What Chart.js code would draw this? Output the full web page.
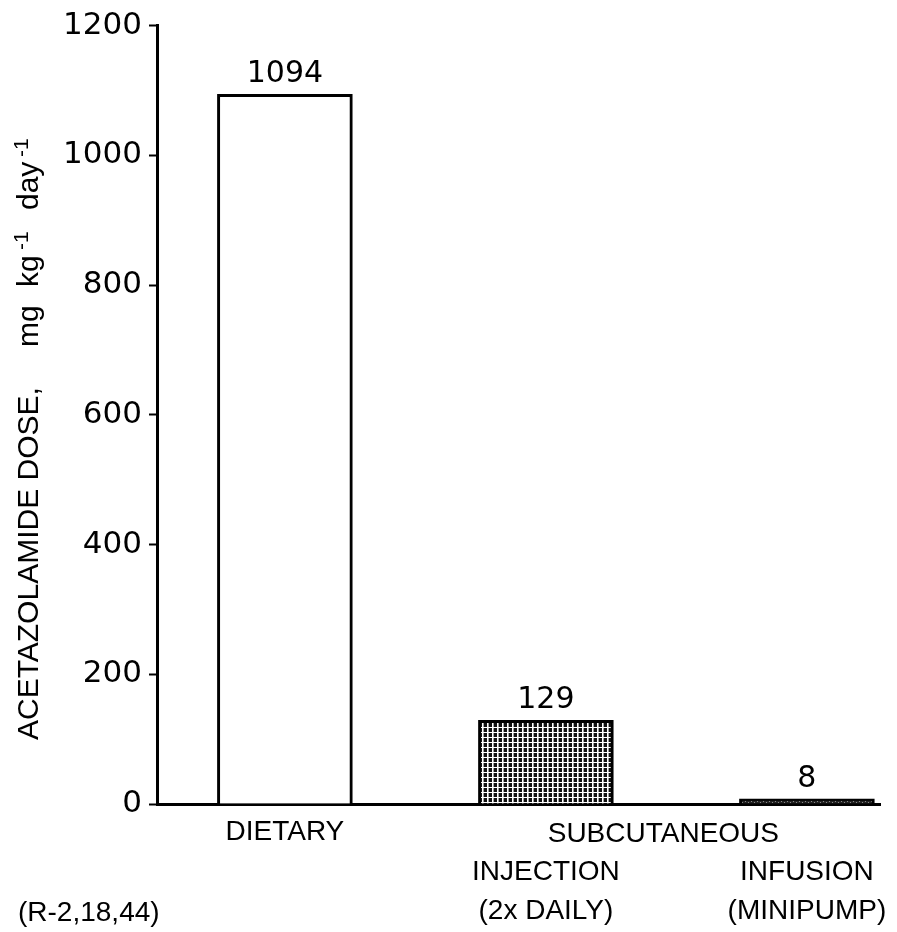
<!DOCTYPE html>
<html>
<head>
<meta charset="utf-8">
<style>
  html, body { margin: 0; padding: 0; background: #fff; }
  canvas { display: block; }
</style>
<script src="https://cdn.jsdelivr.net/npm/chart.js@4.4.1/dist/chart.umd.min.js"></script>
</head>
<body>
<canvas id="chart" width="897" height="932"></canvas>
<script>
// Acetazolamide dose by route of administration
const categories = [
  ["DIETARY"],
  ["", "INJECTION", "(2x DAILY)"],
  ["", "INFUSION", "(MINIPUMP)"]
];
const positions = [1, 2, 3];
const doses = [1094, 129, 8];
const yTicks = [0, 200, 400, 600, 800, 1000, 1200];
const groupLabel = "SUBCUTANEOUS";
const groupPosition = 2.45;
const referenceNote = "(R-2,18,44)";

const TEXT_FONT = "'Liberation Sans', Arial, sans-serif";
const NUM_FONT = "'DejaVu Sans', sans-serif";

// dark cross-hatch fill used for the injection bar
function makeHatch() {
  const t = document.createElement('canvas');
  t.width = 5; t.height = 5;
  const g = t.getContext('2d');
  g.fillStyle = '#111';
  g.fillRect(0, 0, 5, 5);
  g.fillStyle = '#fff';
  g.fillRect(2, 0, 1.6, 5);
  g.fillRect(0, 2, 5, 1);
  return g.createPattern(t, 'repeat');
}
function makeSpeckle() {
  const t = document.createElement('canvas');
  t.width = 6; t.height = 4;
  const g = t.getContext('2d');
  g.fillStyle = '#222';
  g.fillRect(0, 0, 6, 4);
  g.fillStyle = '#888';
  g.fillRect(1, 1, 1, 1);
  g.fillRect(4, 2, 1, 1);
  return g.createPattern(t, 'repeat');
}

const valueLabels = {
  id: 'valueLabels',
  afterDatasetsDraw(chart) {
    const ctx = chart.ctx;
    const meta = chart.getDatasetMeta(0);
    ctx.save();
    ctx.fillStyle = '#000';
    ctx.font = "30px " + NUM_FONT;
    ctx.textAlign = 'center';
    ctx.textBaseline = 'alphabetic';
    meta.data.forEach((bar, i) => {
      ctx.fillText(String(doses[i]), bar.x, bar.y - 12);
    });
    ctx.restore();
  }
};

const extraText = {
  id: 'extraText',
  afterDraw(chart) {
    const ctx = chart.ctx;
    const xs = chart.scales.x;
    ctx.save();
    ctx.fillStyle = '#000';
    ctx.font = "28px " + TEXT_FONT;
    ctx.textBaseline = 'alphabetic';
    ctx.textAlign = 'center';
    ctx.fillText(groupLabel, xs.getPixelForValue(groupPosition), 842);
    ctx.textAlign = 'left';
    ctx.fillText(referenceNote, 18, 921);

    // rotated axis title with superscripts
    ctx.translate(38, 740);
    ctx.rotate(-Math.PI / 2);
    const main = "30px " + TEXT_FONT;
    const sup = "21px " + TEXT_FONT;
    const parts = [
      ["ACETAZOLAMIDE DOSE,", main, 0, 0],
      ["mg", main, 0, 393],
      ["kg", main, 0, 453],
      ["-1", sup, -10, 490],
      ["day", main, 0, 530],
      ["-1", sup, -10, 583]
    ];
    parts.forEach(([txt, f, dy, at]) => {
      ctx.font = f;
      ctx.fillText(txt, at, dy);
    });
    ctx.restore();
  }
};

const ctx = document.getElementById('chart').getContext('2d');
new Chart(ctx, {
  type: 'bar',
  data: {
    datasets: [{
      data: positions.map((p, i) => ({ x: p, y: doses[i] })),
      backgroundColor: ['#fff', makeHatch(), makeSpeckle()],
      borderColor: '#000',
      borderWidth: 3,
      borderSkipped: 'bottom',
      barThickness: 135
    }]
  },
  options: {
    responsive: false,
    animation: false,
    devicePixelRatio: 1,
    layout: { padding: { top: 23, right: 17, bottom: 0, left: 0 } },
    plugins: { legend: { display: false }, tooltip: { enabled: false } },
    scales: {
      x: {
        type: 'linear',
        offset: false,
        min: 0.51,
        max: 3.28,
        afterBuildTicks: s => { s.ticks = positions.map(v => ({ value: v })); },
        afterFit: s => { s.height = 128; },
        ticks: {
          callback: v => categories[positions.indexOf(v)],
          font: { family: TEXT_FONT, size: 28, lineHeight: 1.4 },
          color: '#000',
          padding: 9,
          maxRotation: 0,
          autoSkip: false
        },
        grid: { display: false, drawTicks: false, offset: false },
        border: { display: true, color: '#000', width: 3 }
      },
      y: {
        min: 0,
        max: 1200,
        afterBuildTicks: s => { s.ticks = yTicks.map(v => ({ value: v })); },
        afterFit: s => { s.width = 157; },
        ticks: {
          callback: v => String(v),
          font: { family: NUM_FONT, size: 31 },
          color: '#000',
          padding: 7
        },
        grid: { drawOnChartArea: false, drawTicks: true, tickLength: 8, tickWidth: 2, color: '#000' },
        border: { display: true, color: '#000', width: 3 }
      }
    }
  },
  plugins: [valueLabels, extraText]
});
</script>
</body>
</html>
